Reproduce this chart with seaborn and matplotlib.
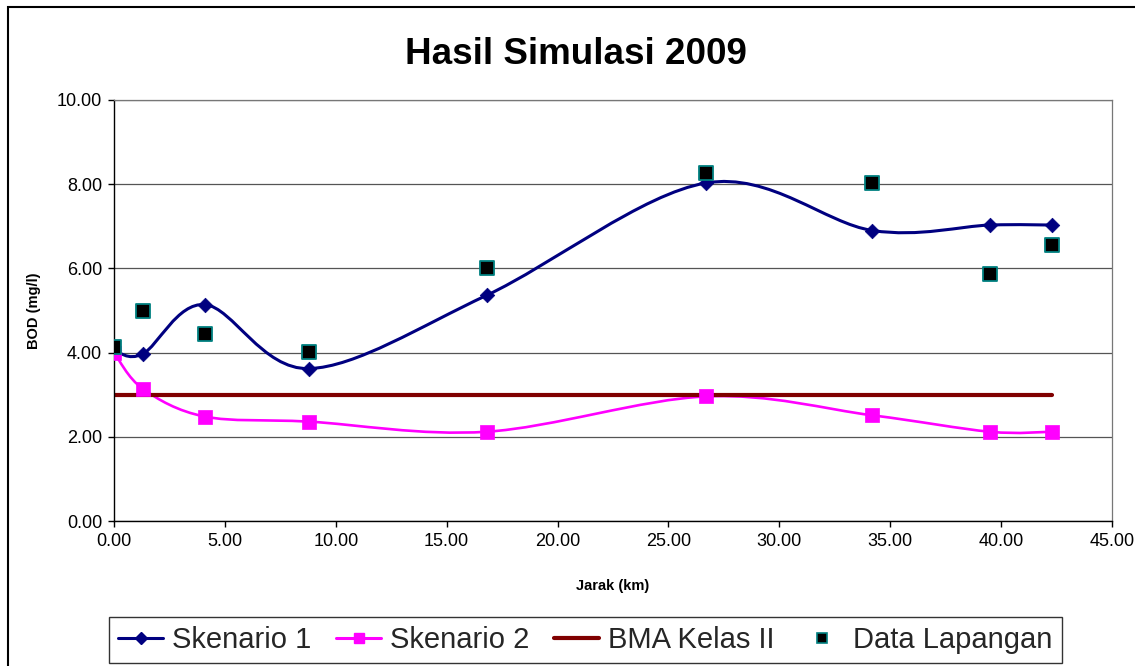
import numpy as np
import matplotlib
matplotlib.use("Agg")
import matplotlib.pyplot as plt
import seaborn as sns
from matplotlib.path import Path
from matplotlib.patches import PathPatch, Rectangle
from matplotlib.lines import Line2D
from matplotlib.ticker import FormatStrFormatter, MultipleLocator

# ---- data ----
jarak = [0.0, 1.3, 4.1, 8.8, 16.8, 26.7, 34.2, 39.5, 42.3]
skenario1 = [4.05, 3.97, 5.14, 3.62, 5.36, 8.03, 6.90, 7.03, 7.03]
skenario2 = [4.00, 3.14, 2.48, 2.36, 2.12, 2.96, 2.51, 2.12, 2.12]
bma_kelas2 = [3.0, 3.0, 3.0, 3.0, 3.0, 3.0, 3.0, 3.0, 3.0]
data_lapangan = [4.13, 4.98, 4.44, 4.02, 6.00, 8.26, 8.02, 5.87, 6.56]

title = "Hasil Simulasi 2009"
xlabel = "Jarak (km)"
ylabel = "BOD (mg/l)"
labels = ["Skenario 1", "Skenario 2", "BMA Kelas II", "Data Lapangan"]

NAVY = "#000080"
MAGENTA = "#FF00FF"
MAROON = "#800000"
TEAL = "#008080"

sns.set_theme(style="white")
plt.rcParams["font.family"] = ["Liberation Sans", "DejaVu Sans"]

fig = plt.figure(figsize=(11.35, 6.66), dpi=100)
ax = fig.add_axes([114 / 1135, 1 - 521 / 666, (1112 - 114) / 1135, (521 - 100) / 666])


def smooth_path(xs, ys):
    pts = np.column_stack([xs, ys]).astype(float)
    n = len(pts)
    verts = [pts[0]]
    codes = [Path.MOVETO]
    for i in range(n - 1):
        p0 = pts[i - 1] if i > 0 else pts[i]
        p1 = pts[i]
        p2 = pts[i + 1]
        p3 = pts[i + 2] if i + 2 < n else pts[i + 1]
        c1 = p1 + (p2 - p0) / 6.0
        c2 = p2 - (p3 - p1) / 6.0
        verts += [c1, c2, p2]
        codes += [Path.CURVE4] * 3
    return Path(verts, codes)


# smoothed lines (Excel style smooth line)
ax.add_patch(PathPatch(smooth_path(jarak, skenario1), fill=False, edgecolor=NAVY,
                       lw=2.2, zorder=2, capstyle="round", joinstyle="round"))
ax.add_patch(PathPatch(smooth_path(jarak, skenario2), fill=False, edgecolor=MAGENTA,
                       lw=1.9, zorder=2, capstyle="round", joinstyle="round"))

sns.lineplot(x=jarak, y=bma_kelas2, color=MAROON, lw=3.0, ax=ax, zorder=2.5,
             solid_capstyle="round")

sns.scatterplot(x=jarak, y=skenario1, marker="D", s=55, color=NAVY,
                edgecolor=NAVY, linewidth=0.5, ax=ax, zorder=3)
sns.scatterplot(x=jarak, y=skenario2, marker="s", s=98, color=MAGENTA,
                edgecolor=MAGENTA, linewidth=0.5, ax=ax, zorder=3)
sns.scatterplot(x=jarak, y=data_lapangan, marker="s", s=100, color="black",
                edgecolor=TEAL, linewidth=1.3, ax=ax, zorder=4)

ax.set_xlim(0, 45)
ax.set_ylim(0, 10)
ax.xaxis.set_major_locator(MultipleLocator(5))
ax.yaxis.set_major_locator(MultipleLocator(2))
ax.xaxis.set_major_formatter(FormatStrFormatter("%.2f"))
ax.yaxis.set_major_formatter(FormatStrFormatter("%.2f"))
ax.tick_params(axis="both", which="major", direction="out", length=4.5, width=1,
               color="black", labelsize=13, labelcolor="black", pad=4,
               bottom=True, left=True)

ax.grid(axis="y", color="#555555", lw=0.9)
ax.grid(axis="x", visible=False)
ax.set_axisbelow(True)
for s in ["left", "bottom"]:
    ax.spines[s].set_color("black")
    ax.spines[s].set_linewidth(1.0)
for s in ["right", "top"]:
    ax.spines[s].set_color("#777777")
    ax.spines[s].set_linewidth(0.9)

ax.set_xlabel(xlabel, fontsize=10.5, fontweight="bold", color="black")
ax.set_ylabel(ylabel, fontsize=10.5, fontweight="bold", color="black")
ax.xaxis.set_label_coords(0.5, (521 - 579) / 421)
ax.yaxis.set_label_coords((41 - 114) / 998, 0.5)

fig.text(576 / 1135, 1 - 54 / 666, title, ha="center", va="center",
         fontsize=26.5, fontweight="bold", color="black")

handles = [
    Line2D([], [], color=NAVY, lw=2.2, marker="D", ms=6, mfc=NAVY, mec=NAVY),
    Line2D([], [], color=MAGENTA, lw=2.2, marker="s", ms=7, mfc=MAGENTA, mec=MAGENTA),
    Line2D([], [], color=MAROON, lw=3.0),
    Line2D([], [], color="none", lw=0, marker="s", ms=7, mfc="black", mec=TEAL, mew=1.2),
]
leg = fig.legend(handles, labels, loc="center", bbox_to_anchor=(585.5 / 1135, 1 - 640 / 666),
                 ncol=4, fontsize=21, frameon=True, fancybox=False, edgecolor="black",
                 handlelength=1.55, handletextpad=0.3, columnspacing=0.85,
                 borderpad=0.3, borderaxespad=0)
leg.get_frame().set_linewidth(1.0)

fig.patches.append(Rectangle((8 / 1135, -0.05), 1.2, 1 - 7 / 666 + 0.05,
                             transform=fig.transFigure, fill=False,
                             edgecolor="black", lw=1.5, zorder=10))

fig.savefig("out.png", dpi=100, facecolor="white")
